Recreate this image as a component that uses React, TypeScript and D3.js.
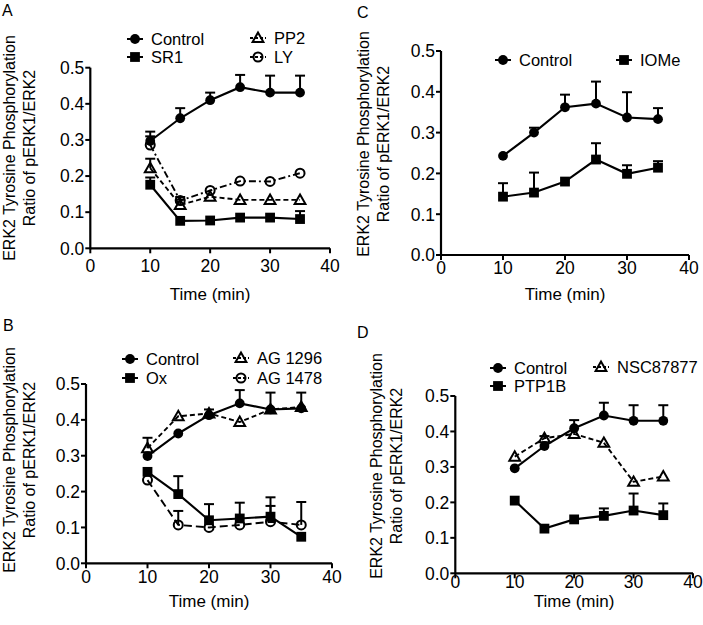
import React from "react";
import * as d3 from "d3";

const times = [10, 15, 20, 25, 30, 35];
const xTicks = [0, 10, 20, 30, 40];
const yTicks = [0, 0.1, 0.2, 0.3, 0.4, 0.5];

// Panel A
const aControl = [0.297, 0.36, 0.41, 0.446, 0.431, 0.431];
const aControlErr = [0.323, 0.388, 0.431, 0.48, 0.478, 0.478];
const aSR1 = [0.176, 0.076, 0.077, 0.085, 0.085, 0.081];
const aSR1Err = [0.196, null, null, null, null, 0.103];
const aPP2 = [0.222, 0.12, 0.143, 0.134, 0.134, 0.134];
const aPP2Err = [0.248, 0.135, null, null, null, null];
const aLY = [0.286, 0.132, 0.16, 0.186, 0.185, 0.208];
const aLYErr = [0.31, 0.142, null, null, null, null];

// Panel B
const bControl = [0.299, 0.362, 0.413, 0.446, 0.429, 0.432];
const bControlErr = [null, null, 0.429, 0.483, 0.476, 0.476];
const bOx = [0.255, 0.193, 0.12, 0.125, 0.13, 0.074];
const bOxErr = [null, 0.243, 0.165, 0.169, 0.184, null];
const bAG1296 = [0.321, 0.41, 0.418, 0.394, 0.429, 0.436];
const bAG1296Err = [0.35, null, null, null, null, null];
const bAG1478 = [0.232, 0.107, 0.1, 0.107, 0.116, 0.107];
const bAG1478Err = [null, 0.146, null, null, 0.16, 0.171];

// Panel C
const cControl = [0.243, 0.3, 0.362, 0.371, 0.337, 0.333];
const cControlErr = [null, 0.312, 0.393, 0.425, 0.399, 0.36];
const cIOMe = [0.143, 0.153, 0.18, 0.234, 0.199, 0.214];
const cIOMeErr = [0.176, 0.202, null, 0.274, 0.22, 0.23];

// Panel D
const dControl = [0.296, 0.359, 0.409, 0.445, 0.43, 0.43];
const dControlErr = [null, null, 0.432, 0.481, 0.474, 0.474];
const dPTP1B = [0.205, 0.126, 0.152, 0.162, 0.177, 0.164];
const dPTP1BErr = [null, null, null, 0.183, 0.225, 0.197];
const dNSC = [0.329, 0.381, 0.393, 0.368, 0.258, 0.273];
const dNSCErr = [null, 0.387, null, null, null, null];

type Marker = "fcircle" | "fsquare" | "otri" | "ocircle";
interface Series {
  name: string;
  values: number[];
  err: (number | null)[];
  marker: Marker;
  dash?: string;
  lx: number;
  ly: number;
}
interface PanelCfg {
  label: string;
  lx: number;
  ly: number;
  x0: number;
  x40: number;
  y0: number;
  y05: number;
  tickOff: number;
  timeY: number;
  titleX1: number;
  titleCY: number;
  series: Series[];
}

const FONT = "'Liberation Sans', Arial, Helvetica, sans-serif";

const panels: PanelCfg[] = [
  {
    label: "A", lx: 2, ly: 16, x0: 90.3, x40: 330, y0: 248.3, y05: 67.7, tickOff: 24, timeY: 300, titleX1: 15, titleCY: 148,
    series: [
      { name: "Control", values: aControl, err: aControlErr, marker: "fcircle", lx: 135, ly: 39 },
      { name: "SR1", values: aSR1, err: aSR1Err, marker: "fsquare", lx: 135, ly: 57 },
      { name: "PP2", values: aPP2, err: aPP2Err, marker: "otri", dash: "5,3", lx: 258, ly: 38 },
      { name: "LY", values: aLY, err: aLYErr, marker: "ocircle", dash: "7,3,2,3", lx: 258, ly: 57 },
    ],
  },
  {
    label: "B", lx: 3, ly: 331, x0: 86, x40: 332, y0: 563.3, y05: 384, tickOff: 20, timeY: 607, titleX1: 15, titleCY: 460,
    series: [
      { name: "Control", values: bControl, err: bControlErr, marker: "fcircle", lx: 130, ly: 359 },
      { name: "Ox", values: bOx, err: bOxErr, marker: "fsquare", lx: 130, ly: 378 },
      { name: "AG 1296", values: bAG1296, err: bAG1296Err, marker: "otri", dash: "5,3", lx: 241, ly: 358 },
      { name: "AG 1478", values: bAG1478, err: bAG1478Err, marker: "ocircle", dash: "8,4", lx: 241, ly: 378 },
    ],
  },
  {
    label: "C", lx: 357, ly: 18, x0: 441, x40: 689, y0: 255, y05: 51, tickOff: 19, timeY: 300, titleX1: 369, titleCY: 144,
    series: [
      { name: "Control", values: cControl, err: cControlErr, marker: "fcircle", lx: 503, ly: 60 },
      { name: "IOMe", values: cIOMe, err: cIOMeErr, marker: "fsquare", lx: 624, ly: 60 },
    ],
  },
  {
    label: "D", lx: 357, ly: 338, x0: 455.3, x40: 693, y0: 573.3, y05: 396, tickOff: 15, timeY: 607, titleX1: 382, titleCY: 466,
    series: [
      { name: "Control", values: dControl, err: dControlErr, marker: "fcircle", lx: 498, ly: 368 },
      { name: "PTP1B", values: dPTP1B, err: dPTP1BErr, marker: "fsquare", lx: 498, ly: 386 },
      { name: "NSC87877", values: dNSC, err: dNSCErr, marker: "otri", dash: "5,3", lx: 601, ly: 367 },
    ],
  },
];

function MarkerShape({ type, x, y }: { type: Marker; x: number; y: number }) {
  if (type === "fcircle") return <circle cx={x} cy={y} r={4.9} fill="#000" />;
  if (type === "fsquare") return <rect x={x - 4.9} y={y - 4.9} width={9.8} height={9.8} fill="#000" />;
  if (type === "ocircle")
    return <circle cx={x} cy={y} r={4.5} fill="none" stroke="#000" strokeWidth={2} />;
  const s = 5.4;
  const pts = [
    [x, y - s],
    [x - s, y + s * 0.75],
    [x + s, y + s * 0.75],
  ]
    .map((p) => p.join(","))
    .join(" ");
  return <polygon points={pts} fill="none" stroke="#000" strokeWidth={2} strokeLinejoin="miter" />;
}

function Panel({ cfg }: { cfg: PanelCfg }) {
  const xs = d3.scaleLinear().domain([0, 40]).range([cfg.x0, cfg.x40]);
  const ys = d3.scaleLinear().domain([0, 0.5]).range([cfg.y0, cfg.y05]);
  const line = d3
    .line<number>()
    .x((_, i) => xs(times[i]))
    .y((d) => ys(d));
  const fmt = d3.format(".1f");
  return (
    <g fontFamily={FONT} fill="#000">
      <text x={cfg.lx} y={cfg.ly} fontSize={16}>{cfg.label}</text>
      {/* axes */}
      <line x1={cfg.x0} x2={cfg.x40} y1={cfg.y0} y2={cfg.y0} stroke="#000" strokeWidth={2.2} />
      <line x1={cfg.x0} x2={cfg.x0} y1={cfg.y0 + 1} y2={cfg.y05} stroke="#000" strokeWidth={2.2} />
      {xTicks.map((t) => (
        <g key={"x" + t}>
          <line x1={xs(t)} x2={xs(t)} y1={cfg.y0} y2={cfg.y0 + 5} stroke="#000" strokeWidth={2} />
          <text x={xs(t)} y={cfg.y0 + cfg.tickOff} fontSize={17.5} textAnchor="middle">{t}</text>
        </g>
      ))}
      {yTicks.map((t) => (
        <g key={"y" + t}>
          <line x1={cfg.x0 - 5} x2={cfg.x0} y1={ys(t)} y2={ys(t)} stroke="#000" strokeWidth={2} />
          <text x={cfg.x0 - 6} y={ys(t) + 6.3} fontSize={17.5} textAnchor="end">{fmt(t)}</text>
        </g>
      ))}
      <text x={(cfg.x0 + cfg.x40) / 2} y={cfg.timeY} fontSize={17} textAnchor="middle">Time (min)</text>
      <text
        transform={`translate(${cfg.titleX1},${cfg.titleCY}) rotate(-90)`}
        fontSize={16}
        textAnchor="middle"
      >
        ERK2 Tyrosine Phosphorylation
      </text>
      <text
        transform={`translate(${cfg.titleX1 + 20},${cfg.titleCY}) rotate(-90)`}
        fontSize={16}
        textAnchor="middle"
      >
        Ratio of pERK1/ERK2
      </text>
      {/* lines */}
      {cfg.series.map((s) => (
        <path
          key={"l" + s.name}
          d={line(s.values) || ""}
          fill="none"
          stroke="#000"
          strokeWidth={s.dash ? 1.9 : 2.1}
          strokeDasharray={s.dash}
        />
      ))}
      {/* error bars */}
      {cfg.series.map((s) =>
        s.err.map((e, i) =>
          e == null ? null : (
            <g key={"e" + s.name + i}>
              <line x1={xs(times[i])} x2={xs(times[i])} y1={ys(s.values[i])} y2={ys(e)} stroke="#000" strokeWidth={2} />
              <line x1={xs(times[i]) - 5} x2={xs(times[i]) + 5} y1={ys(e)} y2={ys(e)} stroke="#000" strokeWidth={2} />
            </g>
          )
        )
      )}
      {/* markers */}
      {cfg.series.map((s) =>
        s.values.map((v, i) => <MarkerShape key={"m" + s.name + i} type={s.marker} x={xs(times[i])} y={ys(v)} />)
      )}
      {/* legend */}
      {cfg.series.map((s) => (
        <g key={"lg" + s.name}>
          <line
            x1={s.lx - 8}
            x2={s.lx + 8}
            y1={s.ly}
            y2={s.ly}
            stroke="#000"
            strokeWidth={2}
            strokeDasharray={s.dash ? "3,2" : undefined}
          />
          <MarkerShape type={s.marker} x={s.lx} y={s.ly} />
          <text x={s.lx + 16} y={s.ly + 5.5} fontSize={16.5}>{s.name}</text>
        </g>
      ))}
    </g>
  );
}

export default function App() {
  return (
    <svg
      width={703}
      height={625}
      style={{ position: "absolute", left: 0, top: 0, background: "#fff" }}
    >
      <rect width={703} height={625} fill="#fff" />
      {panels.map((p) => (
        <Panel key={p.label} cfg={p} />
      ))}
    </svg>
  );
}
